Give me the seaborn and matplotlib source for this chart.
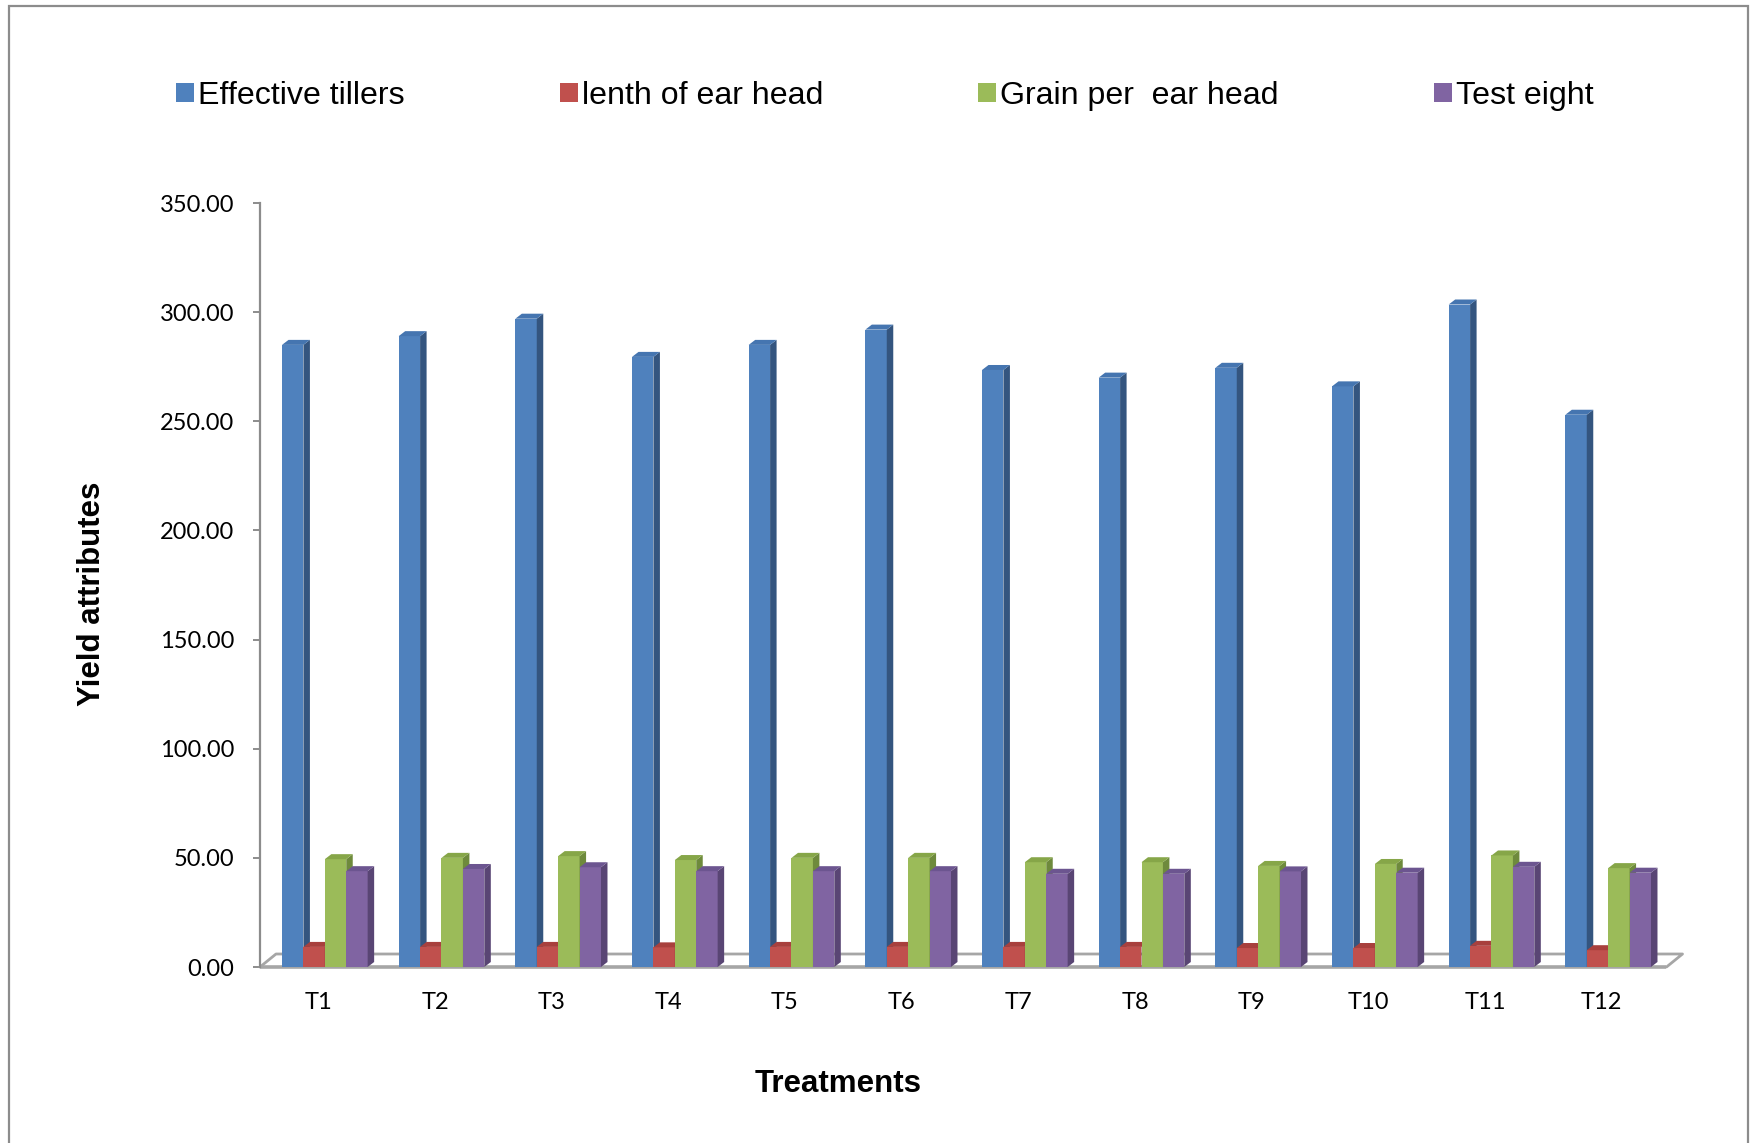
import numpy as np
import pandas as pd
import matplotlib
matplotlib.use("Agg")
import matplotlib.pyplot as plt
import matplotlib.transforms as mtransforms
from matplotlib.patches import Polygon, Rectangle, Patch
from matplotlib.lines import Line2D
import seaborn as sns

# ---- data -------------------------------------------------------------
treatments = ["T1", "T2", "T3", "T4", "T5", "T6", "T7", "T8", "T9", "T10", "T11", "T12"]
series = ["Effective tillers", "lenth of ear head", "Grain per  ear head", "Test eight"]
effective_tillers = [285.0, 289.0, 297.0, 279.5, 285.0, 292.0, 273.5, 270.0, 274.5, 266.0, 303.5, 253.0]
lenth_of_ear_head = [9.2, 9.2, 9.2, 9.0, 9.2, 9.2, 9.2, 9.2, 8.7, 8.7, 9.7, 7.7]
grain_per_ear_head = [49.4, 50.0, 50.8, 49.0, 50.0, 50.0, 48.0, 48.0, 46.3, 47.2, 51.1, 45.3]
test_eight = [43.9, 44.9, 45.7, 43.9, 43.9, 43.9, 42.7, 42.7, 43.8, 43.2, 45.9, 43.2]
y_ticks = [0, 50, 100, 150, 200, 250, 300, 350]

front_colors = ["#4F81BD", "#C0504D", "#9BBB59", "#8064A2"]
side_colors = ["#34557F", "#8A3634", "#6E8A3C", "#594574"]
top_colors = ["#4575B0", "#A8403D", "#86A648", "#6C5590"]

df = pd.DataFrame({
    "Treatment": treatments * 4,
    "Series": np.repeat(series, len(treatments)),
    "Value": effective_tillers + lenth_of_ear_head + grain_per_ear_head + test_eight,
})

# ---- figure -------------------------------------------------------------
sns.set_style("white")
plt.rcParams["font.family"] = ["Liberation Sans", "DejaVu Sans"]
plt.rcParams["text.color"] = "black"
plt.rcParams["xtick.color"] = "black"
plt.rcParams["ytick.color"] = "black"

W, H = 1758, 1143
fig = plt.figure(figsize=(W / 100, H / 100), dpi=100)
ax_left, ax_right = 266.5, 1666.5
ax_bottom, ax_top = 967.0, 203.0
ax = fig.add_axes([ax_left / W, 1 - ax_bottom / H,
                   (ax_right - ax_left) / W, (ax_bottom - ax_top) / H])

sns.barplot(data=df, x="Treatment", y="Value", hue="Series",
            hue_order=series, order=treatments, palette=front_colors,
            saturation=1, width=0.734, linewidth=0, legend=False, ax=ax)

ax.set_xlim(-0.5, 11.5)
ax.set_ylim(0, 350)

# pixel -> data conversion for the pseudo-3D depth
px_per_x = (ax_right - ax_left) / 12.0
px_per_y = (ax_bottom - ax_top) / 350.0
dx = 6.5 / px_per_x
dy = 5.0 / px_per_y

# side and top faces on every bar, layered left to right
for k, cont in enumerate(ax.containers):
    for rect in cont.patches:
        rect.set_zorder(2 + k)
        x0, w, h = rect.get_x(), rect.get_width(), rect.get_height()
        x1 = x0 + w
        side = Polygon([(x1, 0), (x1, h), (x1 + dx, h + dy), (x1 + dx, dy)],
                       closed=True, facecolor=side_colors[k], edgecolor="none",
                       zorder=2 + k + 0.5)
        top = Polygon([(x0, h), (x1, h), (x1 + dx, h + dy), (x0 + dx, h + dy)],
                      closed=True, facecolor=top_colors[k], edgecolor="none",
                      zorder=2 + k + 0.5)
        ax.add_patch(side)
        ax.add_patch(top)

# floor of the 3D box
floor_dx = 16.0 / px_per_x
floor_dy = 13.0 / px_per_y
x_start = -0.5 - 6.5 / px_per_x
x_end = 11.5
floor_col = "#A6A6A6"
ax.add_line(Line2D([x_start, x_end], [0, 0], color=floor_col, lw=2.6,
                   clip_on=False, zorder=1.5, solid_capstyle="butt"))
ax.add_line(Line2D([x_start, x_start + floor_dx, x_end + floor_dx, x_end],
                   [0, floor_dy, floor_dy, 0], color=floor_col, lw=2.0,
                   clip_on=False, zorder=1.2))

# axes styling
for s in ["top", "right", "bottom"]:
    ax.spines[s].set_visible(False)
ax.spines["left"].set_position(("outward", 6.5 * 72 / 100))
ax.spines["left"].set_color("#8C8C8C")
ax.spines["left"].set_linewidth(1.6)
ax.spines["left"].set_bounds(0, 350)

ax.set_yticks(y_ticks)
ax.set_yticklabels([f"{v:.2f}" for v in y_ticks])
ax.tick_params(axis="y", direction="out", length=5, width=1.4, color="#8C8C8C",
               pad=13.5, labelsize=17, labelcolor="black", left=True)
ax.tick_params(axis="x", length=0, pad=18, labelsize=17, labelcolor="black")
for lab in ax.get_yticklabels() + ax.get_xticklabels():
    lab.set_fontfamily(["Lato", "DejaVu Sans"])
shift = mtransforms.ScaledTranslation(-6.5 / 100, 0, fig.dpi_scale_trans)
for lab in ax.get_xticklabels():
    lab.set_transform(lab.get_transform() + shift)

ax.set_xlabel("")
ax.set_ylabel("")
ax.grid(False)

fig.text(92 / W, 1 - 594 / H, "Yield attributes", rotation=90, fontsize=22.5,
         fontweight="bold", ha="center", va="center", color="black")
fig.text(838 / W, 1 - 1084 / H, "Treatments", fontsize=22.5,
         fontweight="bold", ha="center", va="center", color="black")

# legend across the top
handles = [Patch(facecolor=c, edgecolor="none") for c in front_colors]
leg = fig.legend(handles, series, loc="center left",
                 bbox_to_anchor=(176 / W, 1 - 96 / H), ncol=4, frameon=False,
                 fontsize=23.1, handlelength=0.56, handleheight=0.52,
                 handletextpad=0.13, columnspacing=4.83, borderpad=0,
                 borderaxespad=0)
for t in leg.get_texts():
    t.set_color("black")

# outer chart border
fig.add_artist(Rectangle((9 / W, -0.02), (1748 - 9) / W, 1.02 - 6 / H,
                         transform=fig.transFigure, fill=False,
                         edgecolor="#8C8C8C", linewidth=1.6))

fig.savefig("out.png", dpi=100, facecolor="white")
